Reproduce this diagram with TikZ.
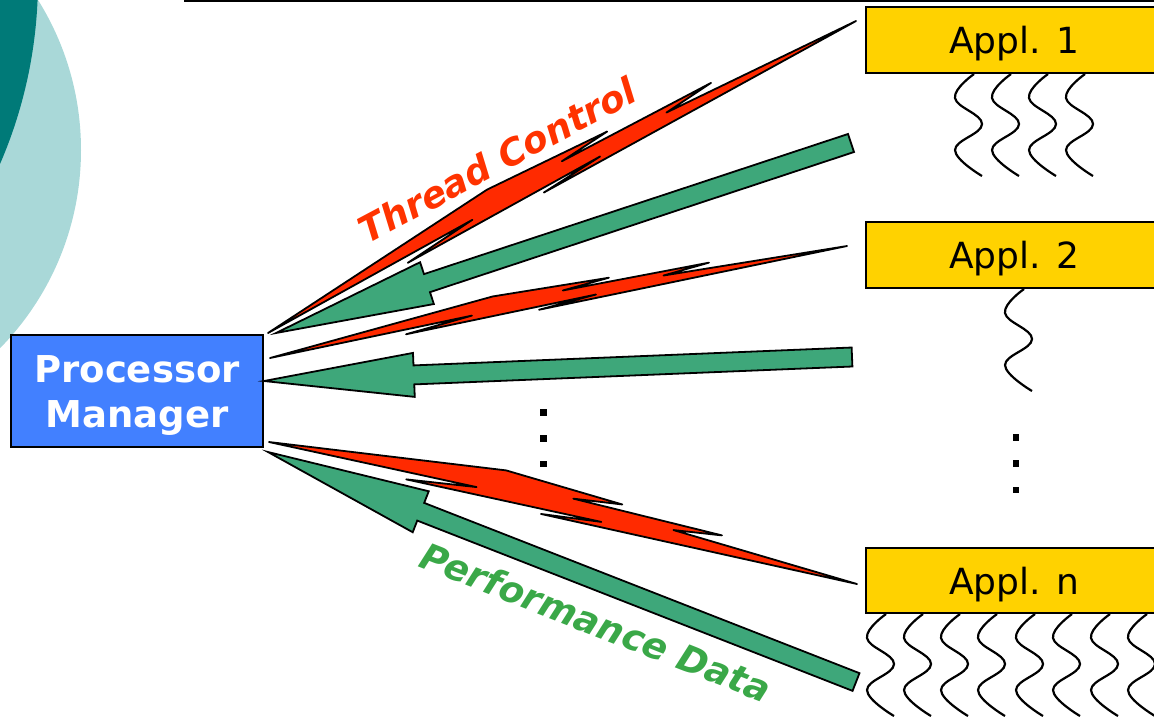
\documentclass[tikz,border=0pt]{standalone}
\usepackage{fontspec}
\setmainfont{DejaVu Sans}
\usetikzlibrary{calc}
\definecolor{boltred}{RGB}{255,42,0}
\definecolor{txtred}{RGB}{255,51,0}
\definecolor{arrgreen}{RGB}{62,167,122}
\definecolor{txtgreen}{RGB}{58,168,72}
\definecolor{pmblue}{RGB}{66,128,255}
\definecolor{applgold}{RGB}{255,210,0}
\definecolor{lightteal}{RGB}{169,216,216}
\definecolor{darkteal}{RGB}{0,122,120}
\tikzset{
  bolt/.style={draw=black, fill=boltred, line width=0.9pt, line join=round},
  garr/.style={draw=black, fill=arrgreen, line width=0.9pt, line join=miter},
  thread/.style={draw=black, line width=1.1pt},
  applbox/.style={draw=black, fill=applgold, line width=0.8pt, minimum width=148pt, minimum height=33pt, inner sep=0pt, text depth=0pt, font=\fontsize{18}{20}\selectfont},
  pmbox/.style={draw=black, fill=pmblue, line width=0.8pt, minimum width=126pt, minimum height=56pt, inner sep=0pt, text depth=0pt, text=white, align=center, font=\bfseries\fontsize{18.5}{22.5}\selectfont},
  dotsq/.style={fill=black},
  lbl/.style={font=\bfseries\itshape\fontsize{18.3}{20}\selectfont, inner sep=0pt}
}
\newcommand\boltshape[3]{%
  \def\bw{#3}%
  \draw[bolt] (#1)
   -- ($(#1)!.392!(#2)!{24*\bw}!90:(#2)$)
   -- ($(#1)!.592!(#2)!{19*\bw}!90:(#2)$)
   -- ($(#1)!.511!(#2)!{14*\bw}!90:(#2)$)
   -- ($(#1)!.764!(#2)!{13.3*\bw}!90:(#2)$)
   -- ($(#1)!.684!(#2)!{8*\bw}!90:(#2)$)
   -- (#2)
   -- ($(#1)!.465!(#2)!{5.2*\bw}!-90:(#2)$)
   -- ($(#1)!.565!(#2)!{0.3*\bw}!90:(#2)$)
   -- ($(#1)!.235!(#2)!{3.5*\bw}!-90:(#2)$)
   -- ($(#1)!.351!(#2)!{4.2*\bw}!90:(#2)$)
   -- cycle;}
\newcommand\garrow[3]{%
  \draw[garr] ($(#1)!4.75pt!90:(#2)$)
   -- ($(#2)!#3!(#1)!4.75pt!-90:(#1)$)
   -- ($(#2)!#3!(#1)!11pt!-90:(#1)$)
   -- (#2)
   -- ($(#2)!#3!(#1)!11pt!90:(#1)$)
   -- ($(#2)!#3!(#1)!4.75pt!90:(#1)$)
   -- ($(#1)!4.75pt!-90:(#2)$) -- cycle;}
\newcommand\squig[2]{\draw[thread] plot[smooth, tension=0.7] coordinates {(#1,#2) (#1-19,#2+24) (#1+8,#2+50) (#1-19,#2+76) (#1+8,#2+102)};}
\begin{document}
\begin{tikzpicture}[x=0.5pt,y=-0.5pt]
\useasboundingbox (0,0) rectangle (1154,720);
\clip (0,0) rectangle (1154,720);
% background circles
\fill[lightteal] (-202,150) circle (283);
\fill[darkteal] (-425,-20) circle (463);
\draw[line width=1pt] (184,1) -- (1154,1);
% nodes
\node[pmbox] (pm) at (137,391) {Processor\\Manager};
\node[applbox] (a1) at (1014,40) {Appl. 1};
\node[applbox] (a2) at (1014,255) {Appl. 2};
\node[applbox, minimum height=32.5pt] (an) at (1014,580.5) {Appl. n};
% threads
\foreach \x in {974,1011,1048,1085} {\squig{\x}{74}}
\squig{1024}{289}
\foreach \x in {886,923,960,997,1035,1072,1110,1147} {\squig{\x}{614}}
% dots
\foreach \y in {412.5,438.3,464} {\fill[dotsq] (540.2,\y-3.3) rectangle ++(6.6,6.6);}
\foreach \y in {437.7,463.3,490} {\fill[dotsq] (1012.7,\y-3.3) rectangle ++(6.6,6.6);}
% connector end points
\coordinate (b1s) at (268,333);  \coordinate (b1e) at (856,21);
\coordinate (g1t) at (851,143);  \coordinate (g1p) at (276,333);
\coordinate (b2s) at (270,358);  \coordinate (b2e) at (847,246);
\coordinate (g2t) at (852,357);  \coordinate (g2p) at (264,381);
\coordinate (b3s) at (269,442);  \coordinate (b3e) at (857,584);
\coordinate (g3t) at (856,682);  \coordinate (g3p) at (268,452);
% bolts and arrows
\boltshape{b1s}{b1e}{0.5pt}
\garrow{g1t}{g1p}{79.5pt}
\boltshape{b2s}{b2e}{0.375pt}
\garrow{g2t}{g2p}{75pt}
\boltshape{b3s}{b3e}{0.585pt}
\garrow{g3t}{g3p}{82pt}
% labels
\node[lbl, text=txtred, rotate=28] (tc) at (497,160) {Thread Control};
\node[lbl, text=txtgreen, rotate=-21.5] (pd) at (596,622) {Performance Data};
\end{tikzpicture}
\end{document}
